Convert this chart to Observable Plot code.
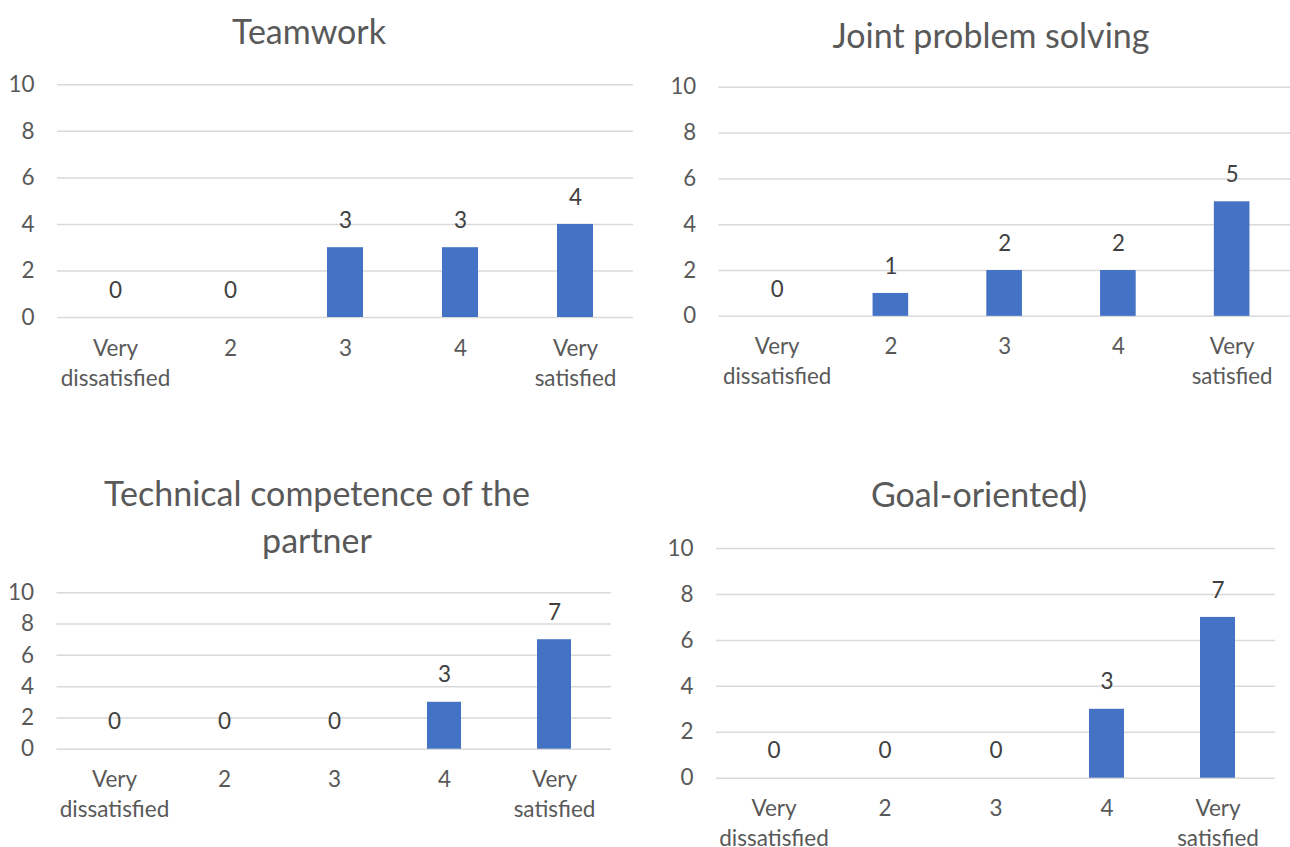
<!DOCTYPE html>
<html>
<head>
<meta charset="utf-8">
<script src="https://cdn.jsdelivr.net/npm/d3@7"></script>
<script src="https://cdn.jsdelivr.net/npm/@observablehq/plot@0.6"></script>
<style>
  html, body { margin: 0; padding: 0; background: #fff; }
  #root { position: relative; width: 1290px; height: 847px; overflow: hidden; background: #fff; }
  .panel { position: absolute; }
  .title { position: absolute; width: 640px; text-align: center; font-family: Lato, "Open Sans", sans-serif; font-weight: 400; color: #595959; white-space: pre; }
</style>
</head>
<body>
<div id="root"></div>
<script>
// ---- data ----
const categories = ["Very dissatisfied", "2", "3", "4", "Very satisfied"];
const tickLabels = ["Very\ndissatisfied", "2", "3", "4", "Very\nsatisfied"];
const yTicks = [0, 2, 4, 6, 8, 10];
const titles = ["Teamwork", "Joint problem solving", "Technical competence of the\npartner", "Goal-oriented)"];
const teamwork = [0, 0, 3, 3, 4];
const jointProblemSolving = [0, 1, 2, 2, 5];
const technicalCompetence = [0, 0, 0, 3, 7];
const goalOriented = [0, 0, 0, 3, 7];

// ---- layout (page px) ----
const panels = [
  {values: teamwork, title: titles[0], left: 0, top: 0, width: 645, plotLeft: 57, plotRight: 633, y10: 84.3, y0: 317, bottom: 397, titleX: 309, titleY: 30},
  {values: jointProblemSolving, title: titles[1], left: 650, top: 0, width: 647, plotLeft: 719.2, plotRight: 1297, y10: 87.7, y0: 319.3, bottom: 400, titleX: 991, titleY: 34},
  {values: technicalCompetence, title: titles[2], left: 0, top: 450, width: 645, plotLeft: 56.5, plotRight: 611, y10: 592.3, y0: 748.7, bottom: 840, titleX: 317, titleY: 515.5},
  {values: goalOriented, title: titles[3], left: 650, top: 450, width: 640, plotLeft: 716, plotRight: 1275, y10: 548, y0: 777.7, bottom: 847, titleX: 979, titleY: 493}
];

const root = document.getElementById("root");
const labelSize = 22.5;
const titleSize = 34;

for (const p of panels) {
  const data = categories.map((c, i) => ({category: c, value: p.values[i]}));
  const height = p.bottom - p.top;
  const chart = Plot.plot({
    width: p.width,
    height: height,
    marginLeft: p.plotLeft - p.left,
    marginRight: p.left + p.width - p.plotRight,
    marginTop: p.y10 - p.top,
    marginBottom: p.bottom - p.y0,
    style: {fontFamily: "Lato, 'Open Sans', sans-serif", fontSize: labelSize + "px", color: "#595959", background: "transparent", overflow: "visible"},
    x: {domain: categories, paddingInner: 0.6875, paddingOuter: 0.34375},
    y: {domain: [0, 10]},
    marks: [
      Plot.gridY(yTicks, {stroke: "#D9D9D9", strokeOpacity: 1, strokeWidth: 1.5}),
      Plot.barY(data, {x: "category", y: "value", fill: "#4472C4"}),
      Plot.text(data, {x: "category", y: "value", text: d => String(d.value), dy: -27, lineAnchor: "middle", fill: "#404040", fontSize: labelSize}),
      Plot.axisY(yTicks, {tickSize: 0, tickPadding: 23, label: null, fontSize: labelSize, fill: "#595959"}),
      Plot.axisX({tickSize: 0, tickPadding: 17, label: null, fontSize: labelSize, lineHeight: 1.33, fill: "#595959",
        tickFormat: d => tickLabels[categories.indexOf(d)]})
    ]
  });
  const wrap = document.createElement("div");
  wrap.className = "panel";
  wrap.style.left = p.left + "px";
  wrap.style.top = p.top + "px";
  wrap.appendChild(chart);
  root.appendChild(wrap);

  const t = document.createElement("div");
  t.className = "title";
  t.textContent = p.title;
  const lines = p.title.split("\n").length;
  const lh = 47;
  t.style.fontSize = titleSize + "px";
  t.style.lineHeight = lh + "px";
  t.style.left = (p.titleX - 320) + "px";
  t.style.top = (p.titleY - lines * lh / 2) + "px";
  root.appendChild(t);
}
</script>
</body>
</html>
